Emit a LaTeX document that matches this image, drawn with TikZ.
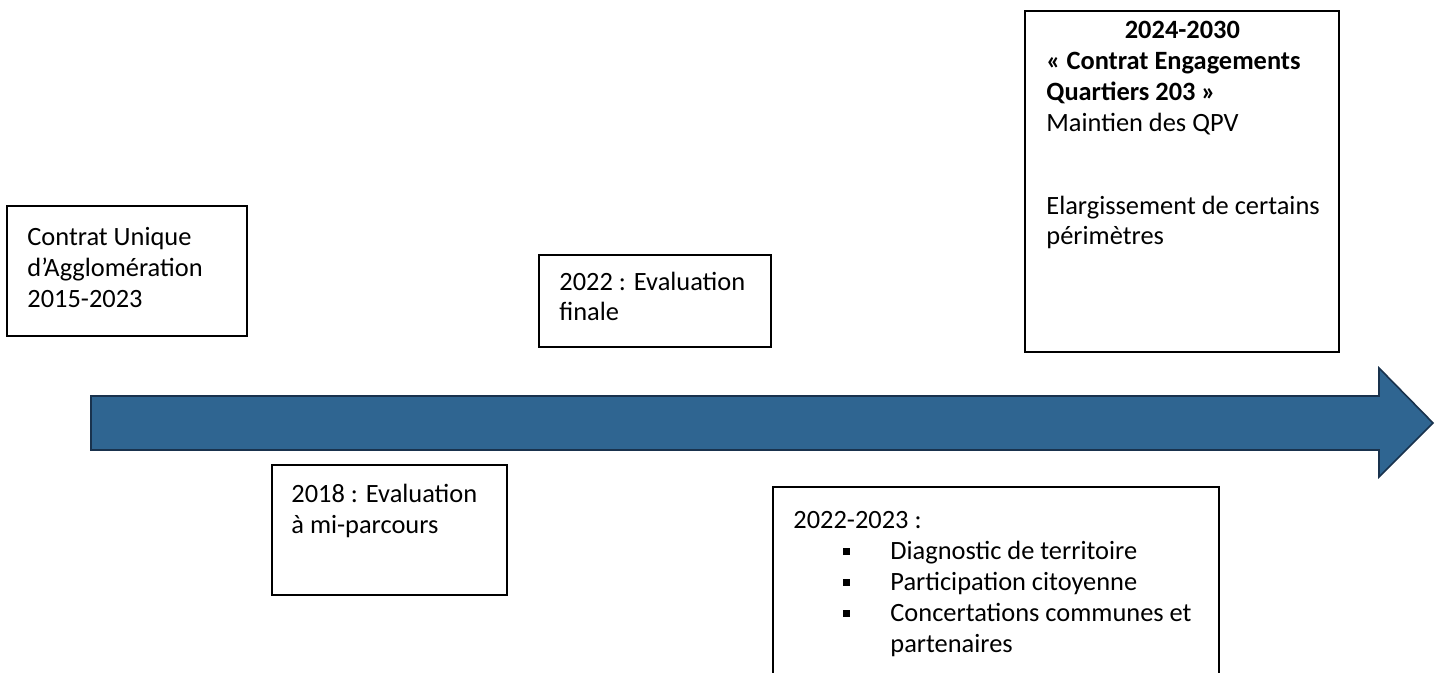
\documentclass[tikz,border=0pt]{standalone}
\usepackage{fontspec}
\setmainfont{Carlito}
\usepackage{xcolor}

\definecolor{flecheBleu}{RGB}{47,101,145}
\definecolor{flecheBord}{RGB}{25,50,77}

\tikzset{
  cadre/.style={draw=black, line width=0.65pt, inner sep=0pt, outer sep=0pt, anchor=north west},
  % base = ligne de base de la derniere ligne du texte
  texte/.style={anchor=base west, inner sep=0pt, align=left, font=\fontsize{13.2}{15.4}\selectfont},
}
% carre noir devant chaque point de la liste
\newcommand{\puce}{\hspace*{25pt}\makebox[23.5pt][l]{\rule[2.3pt]{3.5pt}{3.5pt}}}

\begin{document}
\begin{tikzpicture}[x=0.5pt,y=-0.5pt]
\clip (0,0) rectangle (1443,673);

% la frise
\draw[fill=flecheBleu, draw=flecheBord, line width=0.8pt, line join=miter]
  (91,396) -- (1379,396) -- (1379,368) -- (1433,423) -- (1379,477) -- (1379,450) -- (91,450) -- cycle;

% cadres
\node[cadre, minimum width=120pt, minimum height=65pt] (cua) at (7,206) {};
\node[cadre, minimum width=116pt, minimum height=46pt] (eval22) at (539,255) {};
\node[cadre, minimum width=157pt, minimum height=170.5pt] (cet) at (1025,11) {};
\node[cadre, minimum width=117.5pt, minimum height=65pt] (eval18) at (272,465) {};
\node[cadre, minimum width=223pt, minimum height=110pt] (diag) at (773,487) {};

% textes
\node[texte] (cua-t) at ([shift={(20,101)}]cua.north west)
  {Contrat Unique\\d’Agglomération\\2015-2023};
\node[texte] (eval22-t) at ([shift={(20,66)}]eval22.north west)
  {2022 : Evaluation\\finale};
\node[texte] (cet-t) at ([shift={(21,234)}]cet.north west)
  {\makebox[136pt][c]{\bfseries 2024-2030}\\
   \textbf{« Contrat Engagements}\\
   \textbf{Quartiers 203 »}\\
   Maintien des QPV\\[26pt]
   Elargissement de certains\\
   périmètres};
\node[texte] (eval18-t) at ([shift={(19,68)}]eval18.north west)
  {2018 : Evaluation\\à mi-parcours};
\node[texte] (diag-t) at ([shift={(20,165)}]diag.north west)
  {2022-2023 :\\
   \puce Diagnostic de territoire\\
   \puce Participation citoyenne\\
   \puce Concertations communes et\\
   \hspace*{48.5pt}partenaires};
\end{tikzpicture}
\end{document}
